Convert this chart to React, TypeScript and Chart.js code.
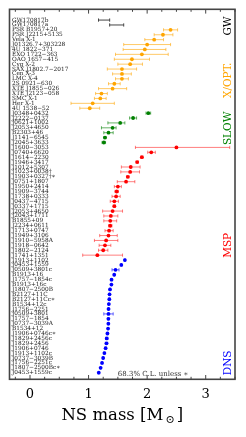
import { useEffect, useRef } from "react";
import { Chart, registerables } from "chart.js";
Chart.register(...registerables);

// ---------- data ----------
const gwNames = ["GW170817b", "GW170817a"];
const gwMin = [1.17, 1.36];
const gwMax = [1.36, 1.6];

const xoptNames = [
  "PSR B1957+20", "PSR J2215+5135", "Vela X-1", "J01326.7+303228", "4U 1822−371",
  "EXO 1722−363", "OAO 1657−415", "Cyg X-2", "SAX J1802.7−2017", "Cen X-3",
  "LMC X-4", "2S 0921−630", "XTE J1855−026", "XTE J2123−058", "SMC X-1",
  "Her X-1", "4U 1538−52",
];
const xoptMass = [2.4, 2.27, 2.12, 2.0, 1.96, 1.91, 1.74, 1.71, 1.57, 1.57, 1.57, 1.44, 1.41, 1.22, 1.2, 1.07, 1.02];
const xoptErrLo = [0.12, 0.15, 0.16, 0.4, 0.37, 0.45, 0.3, 0.21, 0.25, 0.16, 0.11, 0.1, 0.24, 0.1, 0.1, 0.37, 0.17];
const xoptErrHi = [0.12, 0.17, 0.16, 0.4, 0.36, 0.45, 0.3, 0.21, 0.25, 0.16, 0.11, 0.1, 0.24, 0.1, 0.1, 0.37, 0.17];

const slowNames = ["J0348+0432", "J2222−0137", "J0621+1002", "J2053+4650", "B2303+46", "J1141−6545", "J2045+3633"];
const slowMass = [2.02, 1.76, 1.54, 1.41, 1.34, 1.28, 1.26];
const slowErrLo = [0.04, 0.06, 0.21, 0.19, 0.08, 0.02, 0.03];
const slowErrHi = [0.04, 0.06, 0.08, 0.06, 0.08, 0.02, 0.03];

const mspNames = [
  "J1600−3053", "J0740+6620", "J1614−2230", "J1946+3417", "J1012+5307", "J1023+0038†",
  "J1903+0327†∗", "J0751+1807", "J1950+2414", "J1909−3744", "J1738+0333", "J0437−4715",
  "J0337+1715", "J2053+4650", "J2043+1711", "B1855+09", "J2234+0611", "J1713+0747",
  "J1949+3106", "J1910−5958A", "J1918−0642", "J1802−2124", "J1741+1351",
];
const mspMass = [2.5, 2.07, 1.91, 1.83, 1.72, 1.71, 1.67, 1.64, 1.5, 1.48, 1.47, 1.44, 1.44, 1.41, 1.38, 1.37, 1.37, 1.35, 1.34, 1.3, 1.28, 1.25, 1.15];
const mspErrLo = [0.7, 0.06, 0.02, 0.02, 0.16, 0.16, 0.02, 0.15, 0.06, 0.03, 0.07, 0.07, 0.02, 0.17, 0.12, 0.11, 0.03, 0.07, 0.15, 0.2, 0.1, 0.08, 0.25];
const mspErrHi = [0.91, 0.07, 0.02, 0.02, 0.16, 0.16, 0.02, 0.15, 0.06, 0.03, 0.07, 0.07, 0.02, 0.17, 0.12, 0.11, 0.03, 0.07, 0.15, 0.2, 0.1, 0.08, 0.43];

const dnsNames = [
  "J1913+1102", "J0453+1559", "J0509+3801c", "B1913+16", "J1757−1854c", "B1913+16c",
  "J1807−2500B", "B2127+11C", "B2127+11Cc∗", "B1534+12c", "J1756−2251", "J0509+3801",
  "J1757−1854", "J0737−3039A", "B1534+12", "J1906+0746c∗", "J1829+2456c", "J1829+2456",
  "J1906+0746", "J1913+1102c", "J0737−3039B", "J1756−2251c", "J1807−2500Bc∗", "J0453+1559c",
];
const dnsMass = [1.62, 1.559, 1.46, 1.438, 1.392, 1.39, 1.366, 1.358, 1.354, 1.346, 1.341, 1.34, 1.338, 1.338, 1.333, 1.322, 1.31, 1.306, 1.291, 1.27, 1.249, 1.23, 1.206, 1.174];
const dnsErr = [0.01, 0.005, 0.06, 0.001, 0.01, 0.001, 0.003, 0.005, 0.01, 0.002, 0.003, 0.08, 0.01, 0.001, 0.002, 0.01, 0.02, 0.02, 0.01, 0.01, 0.001, 0.007, 0.004, 0.004];

const groupTitles = ["GW", "X/OPT.", "SLOW", "MSP", "DNS"];
const groupColors = ["#000000", "#FFA500", "#008000", "#FF0000", "#0000FF"];
const groupTitleRows = [1.2, 12.3, 22.1, 46, 70];

const xMajorTicks = [0, 1, 2, 3];
const noteText = "68.3% C.L. unless ∗";

const SERIF = '"DejaVu Serif", serif';

export default function App() {
  const ref = useRef<HTMLCanvasElement>(null);
  useEffect(() => {
    document.body.style.margin = "0";
    const canvas = ref.current!;
    const labels = [...gwNames, ...xoptNames, ...slowNames, ...mspNames, ...dnsNames];
    let off = 0;
    const mk = (mass: number[], lo: number[], hi: number[], color: string, errColor: string, radius: number) => {
      const start = off;
      off += mass.length;
      return {
        data: mass.map((m, i) => ({ x: m, y: start + i })),
        errLo: lo,
        errHi: hi,
        errColor,
        backgroundColor: color,
        borderColor: color,
        pointRadius: radius,
        pointBorderWidth: 0,
        pointHoverRadius: radius,
      };
    };
    const gwMid = gwMin.map((v, i) => (v + gwMax[i]) / 2);
    const gwHalf = gwMin.map((v, i) => (gwMax[i] - v) / 2);
    const datasets: any[] = [
      mk(gwMid, gwHalf, gwHalf, "#333", "#444", 0),
      mk(xoptMass, xoptErrLo, xoptErrHi, "#FFA500", "rgba(255,165,0,0.6)", 1.9),
      mk(slowMass, slowErrLo, slowErrHi, "#008000", "rgba(0,128,0,0.6)", 1.9),
      mk(mspMass, mspErrLo, mspErrHi, "#FF0000", "rgba(255,0,0,0.5)", 1.9),
      mk(dnsMass, dnsErr, dnsErr, "#0000FF", "rgba(0,0,255,0.6)", 1.9),
    ];
    const groupRanges: number[][] = [];
    {
      let s = 0;
      [gwNames, xoptNames, slowNames, mspNames, dnsNames].forEach((g) => {
        groupRanges.push([s, s + g.length - 1]);
        s += g.length;
      });
    }

    const errorBars = {
      id: "errorBars",
      beforeDatasetsDraw(chart: any) {
        const { ctx } = chart;
        const xs = chart.scales.x, ys = chart.scales.y;
        chart.data.datasets.forEach((ds: any) => {
          ctx.save();
          ctx.strokeStyle = ds.errColor;
          ctx.lineWidth = 1;
          ds.data.forEach((p: any, i: number) => {
            const lo = ds.errLo[i], hi = ds.errHi[i];
            const x0 = xs.getPixelForValue(p.x - lo);
            const x1 = xs.getPixelForValue(p.x + hi);
            const yy = ys.getPixelForValue(p.y);
            const cap = 1.6;
            ctx.beginPath();
            ctx.moveTo(x0, yy);
            ctx.lineTo(x1, yy);
            ctx.moveTo(x0, yy - cap);
            ctx.lineTo(x0, yy + cap);
            ctx.moveTo(x1, yy - cap);
            ctx.lineTo(x1, yy + cap);
            ctx.stroke();
          });
          ctx.restore();
        });
      },
    };

    const decor = {
      id: "decor",
      afterDraw(chart: any) {
        const { ctx, chartArea: a } = chart;
        const xs = chart.scales.x, ys = chart.scales.y;
        ctx.save();
        // ticks top & bottom, inward
        ctx.strokeStyle = "#444";
        ctx.lineWidth = 1;
        for (let v = -0.25; v <= 3.5; v += 0.25) {
          const px = xs.getPixelForValue(v);
          const major = Math.abs(v - Math.round(v)) < 1e-6;
          const len = major ? 4.3 : 2.5;
          ctx.beginPath();
          ctx.moveTo(px, a.bottom);
          ctx.lineTo(px, a.bottom - len);
          ctx.moveTo(px, a.top);
          ctx.lineTo(px, a.top + len);
          ctx.stroke();
        }
        // frame
        ctx.strokeStyle = "#444";
        ctx.lineWidth = 1.6;
        ctx.strokeRect(a.left, a.top, a.right - a.left, a.bottom - a.top);

        // group titles (vertical)
        ctx.font = `10.5px ${SERIF}`;
        ctx.textAlign = "center";
        ctx.textBaseline = "middle";
        groupTitles.forEach((t, i) => {
          const px = xs.getPixelForValue(3.38);
          const py = ys.getPixelForValue(groupTitleRows[i]);
          ctx.save();
          ctx.translate(px, py);
          ctx.rotate(-Math.PI / 2);
          ctx.fillStyle = groupColors[i];
          ctx.fillText(t, 0, 0);
          ctx.restore();
        });

        // note
        ctx.font = `7px ${SERIF}`;
        ctx.fillStyle = "#333";
        ctx.textAlign = "left";
        ctx.fillText(noteText, xs.getPixelForValue(1.5), ys.getPixelForValue(72.3));

        // x title with subscript
        const big = `16.5px ${SERIF}`;
        const small = `11px ${SERIF}`;
        const p1 = "NS mass [M", p2 = "⊙", p3 = "]";
        ctx.font = big;
        const w1 = ctx.measureText(p1).width;
        const w3 = ctx.measureText(p3).width;
        ctx.font = small;
        const w2 = ctx.measureText(p2).width;
        const gap = 2;
        const total = w1 + gap + w2 + gap + w3;
        let cx = (a.left + a.right) / 2 - total / 2;
        const ty = 420;
        ctx.textBaseline = "alphabetic";
        ctx.fillStyle = "#000";
        ctx.font = big;
        ctx.fillText(p1, cx, ty);
        cx += w1 + gap;
        ctx.font = small;
        ctx.fillText(p2, cx, ty + 3);
        cx += w2 + gap;
        ctx.font = big;
        ctx.fillText(p3, cx, ty);
        ctx.restore();
      },
    };

    const chart = new Chart(canvas, {
      type: "scatter",
      data: { datasets },
      options: {
        animation: false,
        responsive: false,
        devicePixelRatio: 1,
        layout: { padding: { top: 9.3, right: 11, left: 0, bottom: 0 } },
        plugins: { legend: { display: false }, tooltip: { enabled: false } },
        scales: {
          x: {
            type: "linear",
            min: -0.35,
            max: 3.5,
            grid: { display: false, drawTicks: false },
            border: { display: false },
            afterBuildTicks: (s: any) => {
              s.ticks = xMajorTicks.map((v) => ({ value: v }));
            },
            afterFit: (s: any) => {
              s.height = 437 - 379.3;
            },
            ticks: {
              font: { family: SERIF, size: 13 },
              color: "#000",
              padding: 8,
              maxRotation: 0,
              autoSkip: false,
              callback: (v: any) => String(v),
            },
          },
          y: {
            type: "linear",
            reverse: true,
            min: -2.2,
            max: 73.35,
            grid: { display: false, drawTicks: false },
            border: { display: false },
            afterBuildTicks: (s: any) => {
              s.ticks = labels.map((_, i) => ({ value: i }));
            },
            afterFit: (s: any) => {
              s.width = 9.5;
            },
            ticks: {
              mirror: true,
              padding: 2.5,
              autoSkip: false,
              font: { family: SERIF, size: 5.8 },
              color: "#222",
              callback: (v: any) => labels[v as number] ?? "",
            },
          },
        },
      },
      plugins: [errorBars, decor],
    } as any);
    return () => chart.destroy();
  }, []);
  return (
    <div style={{ position: "absolute", left: 0, top: 0, width: 246, height: 437 }}>
      <canvas ref={ref} width={246} height={437} style={{ width: 246, height: 437, display: "block" }} />
    </div>
  );
}
